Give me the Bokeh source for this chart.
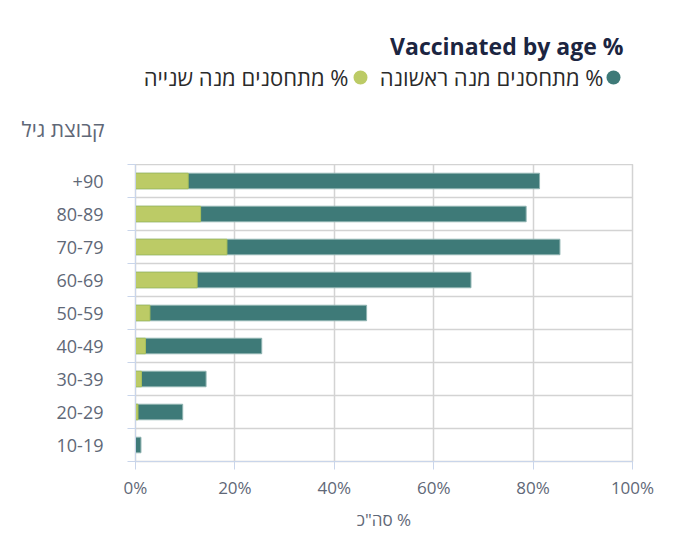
from bokeh.plotting import figure
from bokeh.layouts import column
from bokeh.models import ColumnDataSource, FixedTicker
from bokeh.core.properties import value
from bokeh.embed import file_html
from bokeh.resources import INLINE

# ---- data ----
age_groups = ["10-19", "20-29", "30-39", "40-49", "50-59", "60-69", "70-79", "80-89", "+90"]
first_dose = [1.1, 9.5, 14.2, 25.4, 46.5, 67.5, 85.4, 78.6, 81.3]
second_dose = [0.0, 0.5, 1.2, 2.0, 2.9, 12.4, 18.4, 13.1, 10.6]
x_ticks = [0, 20, 40, 60, 80, 100]
x_tick_labels = ["0%", "20%", "40%", "60%", "80%", "100%"]

title_text = "Vaccinated by age %"
legend_first = "מתחסנים מנה ראשונה %"
legend_second = "מתחסנים מנה שנייה %"
y_title = "קבוצת גיל"
x_title = 'סה"כ %'

TEAL = "#3e7a78"
GREEN = "#bccb66"
FONT = "Open Sans"
TICK_COLOR = "#5f6877"
AXIS_BLUE = "#c9d5ea"
GRID = "#d3d3d3"
PAGE_BG = "#eef1f6"

W = 676
FL, FR, FT, FB = 135, 632, 164, 461
HA = 96              # header A: title + legend
HB = FT - HA         # header B: y-axis title strip
H_MAIN = 536 - FT


def bare(fig):
    fig.grid.visible = False
    fig.outline_line_color = None
    fig.border_fill_color = "white"
    fig.background_fill_color = "white"


# ---------------- header A (title / legend), frame spans page px FL..FR ----------------
hdr = figure(width=W, height=HA, x_range=(FL, FR), y_range=(HA, 0),
             output_backend="svg", toolbar_location=None, title=None, min_border=0)
hdr.axis.visible = False
bare(hdr)
hdr.text(x=[623], y=[45], text=[title_text], text_font=value(FONT), text_font_size="23px",
         text_font_style="bold", text_color="#1c2541", text_align="right",
         text_baseline="alphabetic")
hdr.text(x=[603, 348], y=[76, 76], text=[legend_first, legend_second], text_font=value(FONT),
         text_font_size="22px", text_color="#2b2b2b", text_align="right",
         text_baseline="alphabetic")
hdr.scatter(x=[613, 360], y=[77, 77], size=14, marker="circle",
            fill_color=[TEAL, GREEN], line_color=None)

# ---------------- header B (y-axis title as a horizontal axis label) ----------------
hb = figure(width=W, height=HB, x_range=(0, 1), y_range=(0, 1),
            output_backend="svg", toolbar_location=None, title=None, min_border=0,
            min_border_bottom=4)
bare(hb)
hb.xaxis.visible = False
hb.yaxis.ticker = FixedTicker(ticks=[])
hb.yaxis.axis_line_color = None
hb.yaxis.major_tick_line_color = None
hb.yaxis.minor_tick_line_color = None
hb.yaxis.major_tick_out = 0
hb.yaxis.minor_tick_out = 0
hb.yaxis.major_label_text_font_size = "0px"
hb.yaxis.axis_label = y_title
hb.yaxis.axis_label_orientation = "horizontal"
hb.yaxis.axis_label_text_font = FONT
hb.yaxis.axis_label_text_font_size = "21px"
hb.yaxis.axis_label_text_font_style = "normal"
hb.yaxis.axis_label_text_color = TICK_COLOR
hb.yaxis.axis_label_standoff = 31

# ---------------- main chart ----------------
ypos = [i + 0.5 for i in range(len(age_groups))]
src = ColumnDataSource(dict(y=ypos, first=first_dose, second=second_dose))

p = figure(width=W, height=H_MAIN, x_range=(0, 100), y_range=(0, len(age_groups)),
           output_backend="svg", toolbar_location=None, title=None,
           min_border_left=FL, min_border_right=W - FR, min_border_top=0,
           min_border_bottom=H_MAIN - (FB - FT))
p.outline_line_color = GRID
p.outline_line_width = 1.5
p.background_fill_color = "white"
p.border_fill_color = "white"

p.hbar(y="y", left=0, right="first", height=0.47, source=src,
       fill_color=TEAL, line_color="#8fb3b1", line_width=1)
p.hbar(y="y", left=0, right="second", height=0.47, source=src,
       fill_color=GREEN, line_color="#a9c05a", line_width=1)

# x axis
p.xaxis.ticker = FixedTicker(ticks=x_ticks)
p.xaxis.major_label_overrides = {t: l for t, l in zip(x_ticks, x_tick_labels)}
p.xaxis.axis_line_color = AXIS_BLUE
p.xaxis.major_tick_line_color = AXIS_BLUE
p.xaxis.major_tick_out = 8
p.xaxis.major_tick_in = 0
p.xaxis.minor_tick_line_color = None
p.xaxis.major_label_text_font = FONT
p.xaxis.major_label_text_font_size = "17px"
p.xaxis.major_label_text_color = TICK_COLOR
p.xaxis.major_label_standoff = 6
p.xaxis.axis_label = x_title
p.xaxis.axis_label_text_font = FONT
p.xaxis.axis_label_text_font_size = "17px"
p.xaxis.axis_label_text_font_style = "normal"
p.xaxis.axis_label_text_color = TICK_COLOR
p.xaxis.axis_label_standoff = 6

# y axis
p.yaxis.ticker = FixedTicker(ticks=ypos, minor_ticks=list(range(len(age_groups) + 1)))
p.yaxis.major_label_overrides = {y: g for y, g in zip(ypos, age_groups)}
p.yaxis.axis_line_color = AXIS_BLUE
p.yaxis.major_tick_line_color = None
p.yaxis.major_tick_out = 0
p.yaxis.major_tick_in = 0
p.yaxis.minor_tick_line_color = AXIS_BLUE
p.yaxis.minor_tick_out = 8
p.yaxis.minor_tick_in = 0
p.yaxis.major_label_text_font = FONT
p.yaxis.major_label_text_font_size = "18px"
p.yaxis.major_label_text_color = TICK_COLOR
p.yaxis.major_label_standoff = 24

# grids
p.xgrid.ticker = FixedTicker(ticks=x_ticks)
p.xgrid.grid_line_color = GRID
p.xgrid.grid_line_width = 1.5
p.ygrid.ticker = FixedTicker(ticks=list(range(len(age_groups) + 1)))
p.ygrid.grid_line_color = GRID
p.ygrid.grid_line_width = 1.5

layout = column(hdr, hb, p, spacing=0)
open("out.html", "w").write(file_html(layout, INLINE))
